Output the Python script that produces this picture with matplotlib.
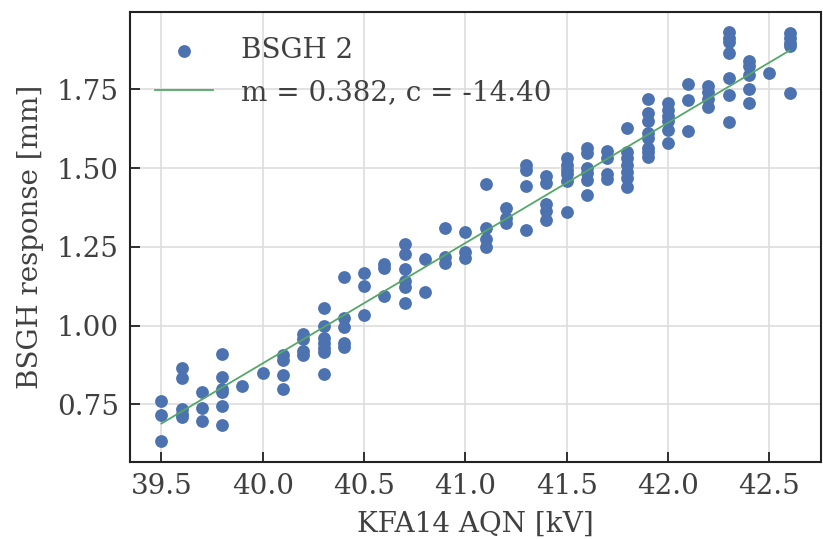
import matplotlib
matplotlib.use("Agg")
import matplotlib.pyplot as plt
import numpy as np

# Data: x column values and corresponding measured responses
columns = {
    39.5: [0.759, 0.717, 0.632],
    39.6: [0.865, 0.832, 0.735, 0.72, 0.71],
    39.7: [0.789, 0.737, 0.698],
    39.8: [0.91, 0.838, 0.80, 0.79, 0.745, 0.685],
    39.9: [0.809],
    40.0: [0.849],
    40.1: [0.905, 0.89, 0.843, 0.80],
    40.2: [0.972, 0.957, 0.919, 0.908],
    40.3: [1.055, 1.0, 0.96, 0.945, 0.93, 0.915, 0.845],
    40.4: [1.153, 1.025, 0.997, 0.944, 0.932],
    40.5: [1.166, 1.127, 1.034],
    40.6: [1.194, 1.184, 1.093],
    40.7: [1.26, 1.228, 1.18, 1.14, 1.122, 1.072],
    40.8: [1.212, 1.106],
    40.9: [1.311, 1.217, 1.199],
    41.0: [1.298, 1.233, 1.214],
    41.1: [1.45, 1.31, 1.276, 1.248],
    41.2: [1.372, 1.34, 1.325],
    41.3: [1.51, 1.495, 1.443, 1.302],
    41.4: [1.476, 1.453, 1.385, 1.364, 1.335],
    41.5: [1.531, 1.509, 1.495, 1.482, 1.46, 1.361],
    41.6: [1.565, 1.549, 1.5, 1.484, 1.463, 1.415],
    41.7: [1.555, 1.533, 1.48, 1.464],
    41.8: [1.627, 1.551, 1.531, 1.509, 1.487, 1.467, 1.439],
    41.9: [1.72, 1.676, 1.651, 1.612, 1.595, 1.565, 1.55, 1.535],
    42.0: [1.705, 1.685, 1.665, 1.65, 1.62, 1.58],
    42.1: [1.768, 1.715, 1.619],
    42.2: [1.762, 1.74, 1.72, 1.693],
    42.3: [1.931, 1.914, 1.899, 1.864, 1.785, 1.731, 1.645],
    42.4: [1.841, 1.825, 1.795, 1.752, 1.705],
    42.5: [1.803],
    42.6: [1.929, 1.912, 1.897, 1.886, 1.737],
}
x_vals = [x for x, ys in columns.items() for _ in ys]
y_vals = [y for ys in columns.values() for y in ys]

slope = 0.382
intercept = -14.40
series_label = "BSGH 2"
fit_label = f"m = {slope:.3f}, c = {intercept:.2f}"
xlabel = "KFA14 AQN [kV]"
ylabel = "BSGH response [mm]"

text_color = "#404040"
fs = 20
plt.rcParams["font.family"] = ["DejaVu Serif"]
plt.rcParams["font.size"] = fs

fig = plt.figure(figsize=(8.23, 5.39), dpi=100)
ax = fig.add_axes([0.158, 0.143, 0.8395, 0.835])

ax.scatter(x_vals, y_vals, s=85, color="#4C72B0", label=series_label, zorder=3, linewidths=0)
xs = np.array([min(x_vals), max(x_vals)])
ax.plot(xs, slope * xs + intercept, color="#55A868", lw=1.3, label=fit_label, zorder=4)

ax.set_xticks([39.5, 40.0, 40.5, 41.0, 41.5, 42.0, 42.5])
ax.set_yticks([0.75, 1.00, 1.25, 1.50, 1.75])
ax.grid(True, color="#dddddd", lw=1.2, zorder=0)
ax.set_axisbelow(True)
for s in ax.spines.values():
    s.set_color("#222222")
    s.set_linewidth(1.5)
ax.tick_params(direction="in", length=7, width=1.3, colors="#222222",
               labelcolor=text_color, labelsize=fs, pad=8)
ax.set_xlabel(xlabel, color=text_color, fontsize=fs, labelpad=8)
ax.set_ylabel(ylabel, color=text_color, fontsize=fs, labelpad=9)

leg = ax.legend(loc="upper left", frameon=False, fontsize=fs, labelcolor=text_color,
                handlelength=2.1, handletextpad=1.0, borderaxespad=0.5, labelspacing=0.55)

fig.savefig("out.png", dpi=100)
